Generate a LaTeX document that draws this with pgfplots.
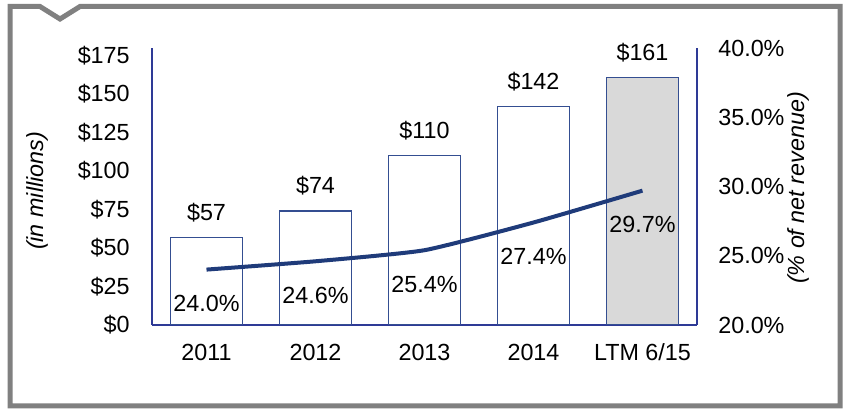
\documentclass[border=0pt]{standalone}
\usepackage{fontspec}
\setmainfont{Liberation Sans}
\usepackage{pgfplots}
\pgfplotsset{compat=1.18}
\definecolor{axisblue}{RGB}{46,58,150}
\definecolor{barline}{RGB}{52,78,145}
\definecolor{linecol}{RGB}{31,59,122}
\definecolor{ltmgray}{RGB}{217,217,217}
\definecolor{framegray}{RGB}{128,128,128}
\newcommand{\fsz}{\fontsize{14}{16}\selectfont}
\begin{document}
\begin{tikzpicture}
% frame in pixel units of the reference
\begin{scope}[x=0.6pt,y=-0.6pt]
  \path (0,0) rectangle (846,410);
  \draw[framegray, line width=3pt, line join=miter]
    (10,406) -- (10,6.5) -- (40,6.5) -- (60,19) -- (80,6.5) -- (840,6.5) -- (840,406) -- cycle;
  \node[rotate=90, font=\fsz\itshape] at (37,191) {(in millions)};
  \node[rotate=90, font=\fsz\itshape] at (798,188) {(\% of net revenue)};
\end{scope}

\pgfplotsset{
  base/.style={
    at={(91.2pt,-195pt)}, anchor=south west,
    scale only axis, width=327pt, height=166.2pt,
    xmin=-0.5, xmax=4.5,
    major tick length=0pt,
    axis line style={-, draw=axisblue, line width=1.5pt},
    tick label style={font=\fsz, inner sep=0pt},
    /pgf/number format/assume math mode=true,
  }
}
% bars, left axis
\begin{axis}[base,
  ymin=0, ymax=180,
  axis x line*=bottom, axis y line*=left,
  xtick={0,1,2,3,4},
  xticklabels={2011,2012,2013,2014,LTM 6/15},
  xticklabel style={anchor=base, yshift=-21.2pt},
  ytick={0,25,50,75,100,125,150,175},
  yticklabel={\$\pgfmathprintnumber{\tick}},
  yticklabel style={anchor=east, xshift=-13.2pt},
  point meta=explicit symbolic,
  nodes near coords,
  every node near coord/.append style={anchor=center, yshift=15pt, font=\fsz, text=black},
]
\addplot[ybar, bar width=43.2pt, bar shift=0pt, draw=barline, fill=white, line width=0.8pt]
  coordinates {(0,57) [\$57] (1,74) [\$74] (2,110) [\$110] (3,142) [\$142]};
\addplot[ybar, bar width=43.2pt, bar shift=0pt, draw=barline, fill=ltmgray, line width=0.8pt]
  coordinates {(4,161) [\$161]};
\end{axis}
% margin line, right axis
\begin{axis}[base,
  ymin=20, ymax=40,
  axis x line=none, axis y line*=right,
  ytick={20,25,30,35,40},
  yticklabel={\pgfmathprintnumber[fixed,fixed zerofill,precision=1]{\tick}\%},
  yticklabel style={anchor=west, xshift=12.6pt},
  point meta=explicit symbolic,
  nodes near coords,
  every node near coord/.append style={anchor=center, yshift=-20.5pt, font=\fsz, text=black},
]
\addplot[linecol, line width=2.4pt, smooth, tension=0.3, mark=none]
  coordinates {(0,24.0) [24.0\%] (1,24.6) [24.6\%] (2,25.4) [25.4\%] (3,27.4) [27.4\%] (4,29.7) [29.7\%]};
\end{axis}
\end{tikzpicture}
\end{document}
